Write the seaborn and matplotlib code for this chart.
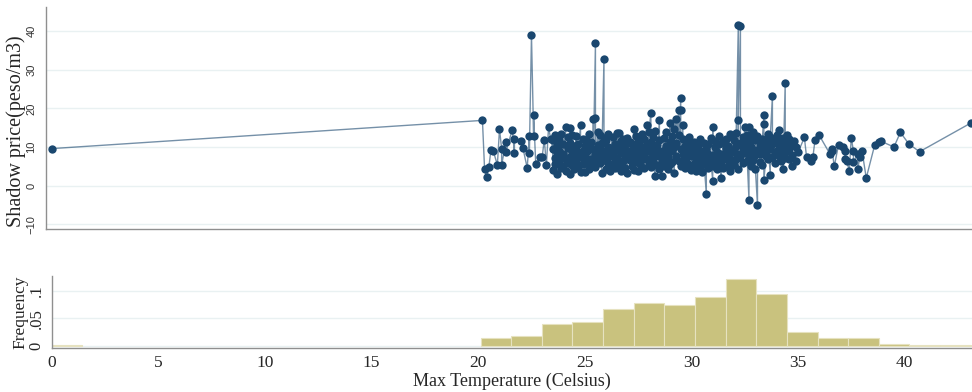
import numpy as np
import pandas as pd
import matplotlib
matplotlib.use("Agg")
import matplotlib.pyplot as plt
import seaborn as sns

# === Shadow price against max temperature (sorted by temperature)
temp = [
    0.0, 20.2, 20.3, 20.4, 20.5, 20.6, 20.7, 20.9, 21.0, 21.1, 21.1, 21.3, 21.3,
    21.6, 21.7, 21.7, 22.0, 22.1, 22.3, 22.4, 22.4, 22.5, 22.6, 22.6, 22.7, 22.9,
    23.0, 23.1, 23.2, 23.3, 23.4,
    23.5, 23.5, 23.5, 23.6, 23.6, 23.6, 23.7, 23.7, 23.7, 23.8, 23.8, 23.8, 23.9, 23.9, 23.9,
    24.0, 24.0, 24.0, 24.1, 24.1, 24.1, 24.2, 24.2, 24.2, 24.3, 24.3, 24.3, 24.3, 24.4, 24.4, 24.4,
    24.5, 24.5, 24.5, 24.6, 24.6, 24.6, 24.7, 24.7, 24.7, 24.8, 24.8, 24.8, 24.9, 24.9, 24.9,
    25.0, 25.0, 25.0, 25.1, 25.1, 25.1, 25.2, 25.2, 25.2, 25.3, 25.3, 25.3, 25.4, 25.4, 25.4,
    25.5, 25.5, 25.5, 25.5, 25.6, 25.6, 25.6, 25.7, 25.7, 25.7, 25.8, 25.8, 25.8, 25.9, 25.9, 25.9, 25.9,
    26.0, 26.0, 26.0, 26.1, 26.1, 26.1, 26.2, 26.2, 26.2, 26.3, 26.3, 26.3, 26.4, 26.4, 26.4,
    26.5, 26.5, 26.5, 26.6, 26.6, 26.6, 26.7, 26.7, 26.7, 26.8, 26.8, 26.8, 26.9, 26.9, 26.9,
    27.0, 27.0, 27.0, 27.1, 27.1, 27.1, 27.2, 27.2, 27.2, 27.3, 27.3, 27.3, 27.4, 27.4, 27.4,
    27.5, 27.5, 27.5, 27.6, 27.6, 27.6, 27.7, 27.7, 27.7, 27.8, 27.8, 27.8, 27.9, 27.9, 27.9,
    28.0, 28.0, 28.0, 28.1, 28.1, 28.1, 28.1, 28.2, 28.2, 28.2, 28.3, 28.3, 28.3, 28.4, 28.4, 28.4,
    28.5, 28.5, 28.5, 28.5, 28.6, 28.6, 28.6, 28.7, 28.7, 28.7, 28.8, 28.8, 28.8, 28.9, 28.9, 28.9,
    29.0, 29.0, 29.0, 29.0, 29.1, 29.1, 29.1, 29.2, 29.2, 29.2, 29.3, 29.3, 29.3, 29.4, 29.4, 29.4,
    29.5, 29.5, 29.5, 29.5, 29.6, 29.6, 29.6, 29.7, 29.7, 29.7, 29.8, 29.8, 29.8, 29.9, 29.9, 29.9,
    30.0, 30.0, 30.0, 30.1, 30.1, 30.1, 30.2, 30.2, 30.2, 30.3, 30.3, 30.3, 30.4, 30.4, 30.4,
    30.5, 30.5, 30.5, 30.6, 30.6, 30.6, 30.7, 30.7, 30.7, 30.8, 30.8, 30.8, 30.9, 30.9, 30.9,
    31.0, 31.0, 31.0, 31.0, 31.1, 31.1, 31.1, 31.2, 31.2, 31.2, 31.3, 31.3, 31.3, 31.4, 31.4, 31.4,
    31.5, 31.5, 31.5, 31.6, 31.6, 31.6, 31.7, 31.7, 31.7, 31.8, 31.8, 31.8, 31.9, 31.9, 31.9,
    32.0, 32.0, 32.0, 32.1, 32.1, 32.1, 32.2, 32.2, 32.2, 32.2, 32.3, 32.3, 32.3, 32.4, 32.4, 32.4,
    32.5, 32.5, 32.5, 32.6, 32.6, 32.6, 32.7, 32.7, 32.7, 32.7, 32.8, 32.8, 32.8, 32.9, 32.9, 32.9,
    33.0, 33.0, 33.0, 33.1, 33.1, 33.1, 33.2, 33.2, 33.2, 33.3, 33.3, 33.3, 33.4, 33.4, 33.4, 33.4,
    33.5, 33.5, 33.5, 33.6, 33.6, 33.6, 33.7, 33.7, 33.7, 33.8, 33.8, 33.8, 33.9, 33.9, 33.9,
    34.0, 34.0, 34.0, 34.1, 34.1, 34.1, 34.2, 34.2, 34.2, 34.3, 34.3, 34.3,
    34.4, 34.4, 34.4, 34.5, 34.5, 34.5, 34.6, 34.6, 34.6, 34.7, 34.7, 34.7,
    34.8, 34.9, 34.9, 35.0, 35.3, 35.4, 35.6, 35.7, 35.8, 36.0, 36.5, 36.6, 36.6, 36.7,
    36.9, 37.1, 37.2, 37.2, 37.3, 37.4, 37.5, 37.6, 37.6, 37.8, 37.8, 37.9, 38.0, 38.2,
    38.6, 38.8, 38.9, 39.5, 39.8, 40.2, 40.7, 43.1,
]
price = [
    9.6, 16.9, 4.3, 2.3, 4.8, 9.3, 9.1, 5.4, 14.6, 9.6, 5.4, 11.2, 8.8,
    14.5, 8.4, 12.1, 11.5, 9.7, 4.6, 12.8, 8.4, 38.9, 12.8, 18.4, 5.6, 7.5,
    7.4, 11.9, 5.4, 15.1, 12.1,
    9.5, 4.1, 11.8, 7.2, 13.1, 5.6, 8.8, 3.0, 10.4, 6.4, 12.2, 9.0, 4.6, 13.4, 7.8,
    10.9, 5.2, 8.1, 15.1, 6.9, 3.9, 9.8, 12.5, 5.8, 3.0, 11.0, 7.5, 15.0, 8.6, 5.3, 13.2,
    10.2, 4.2, 7.0, 12.9, 6.1, 9.3, 4.8, 10.7, 8.0, 15.8, 7.4, 3.6, 12.0, 9.1, 5.5,
    3.5, 10.3, 7.7, 11.6, 6.2, 8.9, 4.4, 13.5, 9.9, 7.0, 11.3, 5.1, 9.6, 17.3, 6.5,
    36.8, 17.5, 8.2, 4.9, 13.9, 7.3, 10.6, 13.0, 5.9, 9.4, 3.3, 11.1, 8.0, 32.9, 9.0, 12.3, 6.7,
    4.3, 8.5, 11.9, 10.1, 6.0, 13.4, 7.6, 3.8, 9.7, 12.6, 5.4, 8.3, 6.8, 10.9, 4.5,
    9.2, 13.7, 7.1, 13.7, 5.7, 10.0, 8.4, 3.9, 11.5, 6.3, 12.1, 9.5, 10.5, 4.7, 7.9,
    3.3, 8.7, 12.4, 11.2, 6.6, 9.1, 5.0, 10.8, 7.4, 14.7, 8.2, 4.0, 9.8, 6.1, 12.9,
    7.3, 11.6, 3.7, 10.4, 5.5, 8.8, 6.9, 13.3, 9.6, 12.0, 4.6, 8.1, 15.6, 7.0, 10.7,
    5.8, 9.4, 13.8, 18.7, 8.6, 4.9, 11.3, 7.2, 12.7, 6.0, 2.6, 9.9, 14.1, 10.6, 5.3, 8.4,
    16.9, 7.8, 11.9, 4.4, 2.6, 9.1, 6.5, 12.3, 8.0, 5.1, 10.2, 13.9, 6.8, 4.3, 9.7, 7.5,
    16.2, 8.9, 11.4, 5.6, 6.2, 12.8, 9.3, 3.3, 10.1, 14.6, 17.3, 7.7, 11.0, 19.5, 13.0, 6.4,
    22.8, 9.5, 19.5, 5.0, 15.8, 8.1, 12.2, 4.6, 10.3, 7.0, 11.8, 6.0, 8.7, 9.4, 5.2, 12.6,
    7.6, 10.9, 4.1, 8.5, 5.7, 11.2, 6.3, 9.8, 3.9, 10.6, 7.1, 5.2, 4.8, 8.9, 12.1,
    9.0, 6.0, 3.6, 7.4, 11.0, 5.5, -2.2, 6.7, 9.6, 8.3, 4.5, 10.8, 5.9, 12.4, 7.2,
    1.3, 15.3, 8.0, 5.0, 9.9, 6.4, 11.6, 4.3, 8.6, 7.0, 10.7, 5.6, 12.8, 2.0, 8.1, 6.2,
    11.4, 7.5, 4.7, 6.8, 9.7, 12.0, 5.1, 10.4, 8.4, 13.4, 7.0, 3.8, 9.2, 12.6, 6.0,
    8.8, 5.4, 11.9, 10.3, 6.9, 13.6, 41.6, 8.1, 4.2, 16.9, 41.4, 11.0, 7.3, 9.5, 12.7, 5.8,
    15.3, 8.4, 10.9, 6.3, 13.1, 9.0, -3.6, 15.2, 7.7, 11.3, 10.0, 5.2, 12.4, 8.6, 13.8, 6.6,
    11.7, 7.9, 4.4, -5.0, 9.3, 12.9, 6.1, 10.6, 8.2, 12.1, 5.3, 9.8, 18.3, 16.0, 10.4, 1.5,
    7.6, 11.9, 9.1, 13.5, 6.8, 10.2, 2.9, 9.5, 12.6, 23.2, 10.9, 7.4, 8.7, 12.2, 5.9,
    11.3, 9.0, 13.0, 14.3, 7.8, 10.5, 6.5, 11.8, 8.4, 12.4, 9.6, 4.3,
    26.7, 10.1, 7.2, 13.0, 8.9, 11.1, 6.9, 12.2, 9.4, 10.8, 5.0, 8.0,
    11.5, 6.5, 10.0, 8.6, 12.5, 7.4, 6.3, 7.5, 11.9, 13.0, 8.2, 9.5, 9.1, 5.0,
    10.6, 10.1, 8.9, 6.9, 6.3, 3.7, 12.4, 8.9, 6.1, 8.2, 4.2, 7.4, 9.1, 2.0,
    10.6, 11.2, 11.5, 10.0, 13.8, 10.8, 8.8, 16.2,
]
assert len(temp) == len(price), (len(temp), len(price))

# === Histogram of max temperature (density per bin, 30 bins from 0 to 43.1)
temp_min, temp_max, n_bins = 0.0, 43.1, 30
bin_density = [
    0.002, 0, 0, 0, 0, 0, 0, 0, 0, 0, 0, 0, 0, 0,
    0.014, 0.019, 0.039, 0.043, 0.067, 0.078, 0.074, 0.089, 0.122, 0.095,
    0.025, 0.014, 0.014, 0.003, 0.001, 0.001,
]

temp_ticks = [0, 5, 10, 15, 20, 25, 30, 35, 40]
price_ticks = [-10, 0, 10, 20, 30, 40]
freq_ticks = [0, 0.05, 0.1]
freq_labels = ["0", ".05", ".1"]

navy = "#1a476f"
khaki = "#c9c27e"
grid_col = "#e9f1f2"
axis_col = "#8f8f8f"

sns.set_style("white")
plt.rcParams["font.family"] = ["Liberation Serif", "DejaVu Serif"]

fig = plt.figure(figsize=(9.72, 3.92), dpi=100)
ax1 = fig.add_axes([0.0473, 0.4158, 0.9527, 0.566])
ax2 = fig.add_axes([0.0532, 0.1122, 0.9468, 0.184])

# --- top: connected scatter
sns.lineplot(x=temp, y=price, sort=False, estimator=None, color=navy,
             alpha=0.6, lw=1.0, ax=ax1)
sns.scatterplot(x=temp, y=price, color=navy, s=36, linewidth=0, ax=ax1, zorder=3)
ax1.set_xlim(-0.27, 43.16)
ax1.set_ylim(-11.2, 46.2)
ax1.set_xticks(temp_ticks)
ax1.set_xticklabels([])
ax1.set_yticks(price_ticks)
ax1.grid(axis="y", color=grid_col, lw=1)
ax1.set_axisbelow(True)
ax1.set_ylabel("Shadow price(peso/m3)", fontsize=14.5)
ax1.yaxis.set_label_coords(-0.0215, 0.44)
ax1.tick_params(axis="y", labelrotation=90, length=4, color=axis_col, pad=3,
                labelsize=8, labelcolor="#333333")
ax1.tick_params(axis="x", length=4, color=axis_col)
for lab in ax1.get_yticklabels():
    lab.set_va("center")
    lab.set_family(["Liberation Sans", "DejaVu Sans"])

# --- bottom: histogram
bin_width = (temp_max - temp_min) / n_bins
hist_df = pd.DataFrame({
    "temp": [temp_min + (i + 0.5) * bin_width for i in range(n_bins)],
    "density": bin_density,
})
sns.histplot(data=hist_df, x="temp", weights="density", bins=n_bins,
             binrange=(temp_min, temp_max), color=khaki, edgecolor="#e6e2c0",
             linewidth=0.8, alpha=1, ax=ax2)
for p in ax2.patches:
    if p.get_height() == 0:
        p.set_visible(False)
ax2.set_xlim(0, 43.16)
ax2.set_ylim(-0.0036, 0.127)
ax2.set_xticks(temp_ticks)
ax2.set_yticks(freq_ticks)
ax2.set_yticklabels(freq_labels)
ax2.grid(axis="y", color=grid_col, lw=1)
ax2.set_axisbelow(True)
ax2.set_ylabel("Frequency", fontsize=12.5)
ax2.yaxis.set_label_coords(-0.0255, 0.5)
ax2.set_xlabel("Max Temperature (Celsius)", fontsize=13)
ax2.xaxis.set_label_coords(0.5, -0.34)
ax2.tick_params(axis="y", labelrotation=90, length=2, color=axis_col, pad=3,
                labelsize=12)
ax2.tick_params(axis="x", length=0, pad=5, labelsize=12.5)
for lab in ax2.get_yticklabels():
    lab.set_va("center")

for ax in (ax1, ax2):
    sns.despine(ax=ax)
    for side in ("left", "bottom"):
        ax.spines[side].set_color(axis_col)
        ax.spines[side].set_linewidth(1)

fig.savefig("out.png", dpi=100)
